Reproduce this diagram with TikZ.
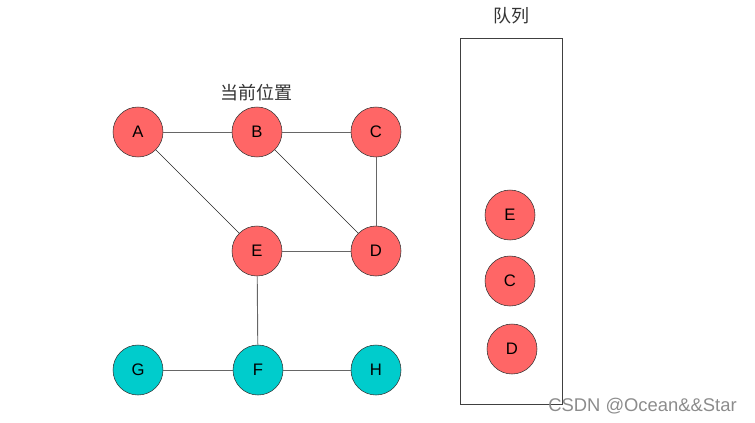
\documentclass[tikz,border=0pt]{standalone}
\usepackage{fontspec}
\setmainfont{Liberation Sans}
\newfontfamily\cjk{Noto Sans CJK SC}
\definecolor{visited}{HTML}{FF6666}
\definecolor{unvisited}{HTML}{00CCCC}
\definecolor{edgegray}{HTML}{666666}

\tikzset{
	vertex/.style = {circle, draw = black!80, minimum size = 37.5pt, inner sep = 0pt, font = \fontsize{12.5}{13}\selectfont},
	edge/.style = {draw = edgegray, line width = 0.7pt}
}

\begin{document}
\begin{tikzpicture}[x = 0.75pt, y = -0.75pt]

	\useasboundingbox (0, 0) rectangle (755, 422);

	% Vertices of the graph
	
	\begin{scope}[every node/.style = {vertex, fill = visited}]
	
		\node (A) at (138, 132) {A};
		\node (B) at (257, 132) {B};
		\node (C) at (376, 132) {C};
		\node (E) at (257, 251) {E};
		\node (D) at (376, 251) {D};
		
	\end{scope}
	
	\begin{scope}[every node/.style = {vertex, fill = unvisited}]
	
		\node (G) at (138, 370) {G};
		\node (F) at (258, 370) {F};
		\node (H) at (376, 370) {H};
		
	\end{scope}
	
	\node [font = \cjk\fontsize{13.5}{14}\selectfont, text = black!80] (here) at (256, 93) {当前位置};

	% Edges
	
	\begin{scope}[edge]
	
		\draw (A) -- (B);
		\draw (B) -- (C);
		\draw (C) -- (D);
		\draw (E) -- (D);
		\draw (E) -- (F);
		\draw (G) -- (F);
		\draw (F) -- (H);
		\draw [line width = 0.45pt, draw = black!85] (A) -- (E);
		\draw [line width = 0.45pt, draw = black!85] (B) -- (D);
		
	\end{scope}

	% Queue
	
	\draw [edge, draw = black!75] (460, 38) rectangle (562, 404);
	\node [font = \cjk\fontsize{13.5}{14}\selectfont, text = black!80] (queue) at (511, 16) {队列};
	
	\begin{scope}[every node/.style = {vertex, fill = visited}]
	
		\node (qE) at (510, 215) {E};
		\node (qC) at (510, 281) {C};
		\node (qD) at (512, 349) {D};
		
	\end{scope}
	
	\node [text = black!45, font = \fontsize{13.8}{14}\selectfont, anchor = west, inner sep = 0pt] (mark) at (548, 406) {CSDN @Ocean\&\&Star};

\end{tikzpicture}
\end{document}
